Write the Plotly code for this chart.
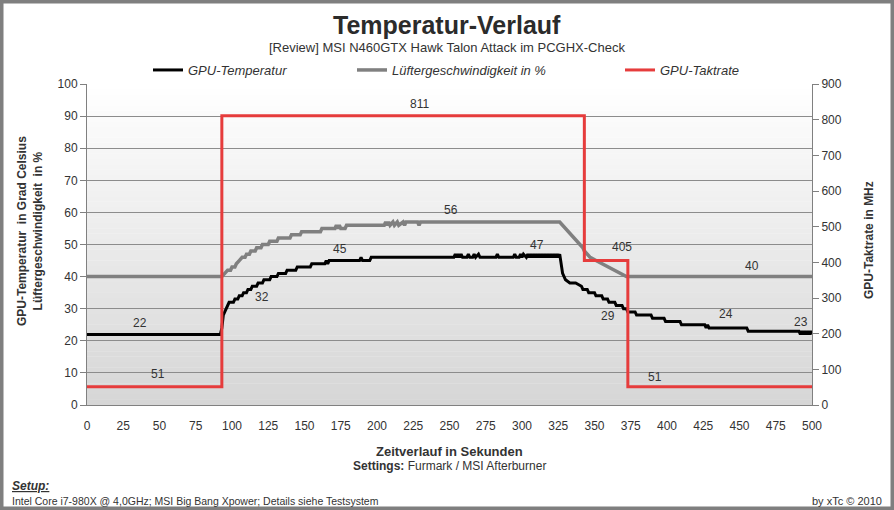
import plotly.graph_objects as go

# ---------------- data ----------------
time_temp = [0, 92, 93, 94, 95, 96, 97, 98, 101, 102, 104, 105, 107, 108, 110, 111, 113, 114, 117, 118,
             121, 122, 126, 127, 131, 132, 137, 138, 144, 145, 154, 155, 164, 165, 166, 167, 188, 189, 190,
             195, 196, 253, 254, 255, 256, 257, 258, 259, 262, 263, 264, 266, 267, 268, 270, 271, 272,
             282, 283, 284, 294, 295, 296, 298, 299, 300, 301, 303, 304, 305, 306, 307, 308, 309, 310,
             311, 312, 313, 314, 315, 316, 317, 318, 319, 320, 321, 322, 323, 324, 325, 326,
             327, 328, 330, 333, 337, 341, 342, 345, 346, 350, 351, 355, 356, 359, 360, 364, 365,
             369, 370, 372, 373, 378, 379, 389, 390, 398, 399, 409, 410, 426, 427, 428, 429, 455, 456,
             491, 492, 493, 494, 495, 496, 497, 498, 499, 500]
temp = [22, 22, 24, 28, 29, 30, 31, 32, 32, 33, 33, 34, 34, 35, 35, 36, 36, 37, 37, 38,
        38, 39, 39, 40, 40, 41, 41, 42, 42, 43, 43, 44, 44, 45, 44, 45, 45, 46, 45,
        45, 46, 46, 47, 46, 47, 46, 47, 46, 46, 47, 46, 46, 47, 46, 47, 46, 46,
        46, 47, 46, 46, 47, 46, 46, 47, 46, 47, 46, 47, 46, 47, 46, 47, 46, 47,
        46, 47, 46, 47, 46, 47, 46, 47, 46, 47, 46, 47, 46, 47, 46, 47,
        43, 41, 39, 38, 38, 37, 36, 36, 35, 35, 34, 34, 33, 33, 32, 32, 31,
        31, 30, 30, 29, 29, 28, 28, 27, 27, 26, 26, 25, 25, 24, 25, 24, 24, 23,
        23, 22, 23, 22, 23, 22, 23, 22, 23, 22]

time_fan = [0, 93, 95, 97, 99, 100, 102, 103, 105, 107, 109, 110, 112, 113, 116, 117, 120, 121, 125, 126,
            131, 132, 140, 141, 147, 148, 161, 162, 171, 172, 173, 174, 175, 178, 179, 205, 206, 207,
            208, 209, 211, 212, 214, 215, 218, 219, 220, 228, 229, 230, 326, 328, 330, 332, 334, 336,
            338, 340, 342, 343, 345, 347, 351, 355, 359, 364, 368, 372, 500]
fan = [40, 40, 41, 42, 42, 43, 43, 44, 45, 46, 46, 47, 47, 48, 48, 49, 49, 50, 50, 51,
       51, 52, 52, 53, 53, 54, 54, 55, 55, 56, 55, 56, 55, 55, 56, 56, 57, 56,
       57, 56, 57, 56, 57, 56, 57, 56, 57, 57, 56, 57, 57, 56, 55, 54, 53, 52,
       51, 50, 49, 48, 47, 46, 45, 44, 43, 42, 41, 40, 40]

time_clock = [0, 93, 93, 343, 343, 373, 373, 500]
clock = [51, 51, 811, 811, 405, 405, 51, 51]

x_ticks = list(range(0, 501, 25))
y_ticks = list(range(0, 101, 10))
y2_ticks = list(range(0, 901, 100))

label_text = ["22", "51", "32", "45", "811", "56", "47", "405", "29", "40", "24", "23", "51"]
label_x = [36.6, 48.7, 120.5, 174.5, 229, 250.8, 310, 369.2, 359, 458.4, 440.4, 492.2, 391.7]
label_y = [25.5, 9.55, 33.5, 48.5, 93.8, 60.7, 50.0, 49.3, 27.8, 43.4, 28.2, 25.8, 8.7]

series_names = ["GPU-Temperatur", "Lüftergeschwindigkeit in %", "GPU-Taktrate"]

# ---------------- figure ----------------
FONT = "Liberation Sans, Arial, sans-serif"
TXT = "#333333"
W, H = 894, 510
L, R, T, B = 87, 82, 84, 105
PW, PH = W - L - R, H - T - B


def px(x):
    return (x - L) / PW


def py(y):
    return (H - B - y) / PH


fig = go.Figure()
fig.add_trace(go.Scatter(x=time_temp, y=temp, mode="lines", name=series_names[0],
                         line=dict(color="#000000", width=3), legend="legend"))
fig.add_trace(go.Scatter(x=time_fan, y=fan, mode="lines", name=series_names[1],
                         line=dict(color="#808080", width=3.5), legend="legend2"))
fig.add_trace(go.Scatter(x=time_clock, y=clock, mode="lines", name=series_names[2], yaxis="y2",
                         line=dict(color="#e63c3c", width=3), legend="legend3"))

shapes = []
n = 60
top = (255, 255, 255)
bot = (214, 214, 214)
for i in range(n):
    f = (i + 0.5) / n
    c = tuple(round(bot[k] + (top[k] - bot[k]) * f) for k in range(3))
    shapes.append(dict(type="rect", xref="paper", yref="paper", x0=0, x1=1,
                       y0=i / n, y1=(i + 1) / n + 0.001, layer="below",
                       line=dict(width=0), fillcolor="rgb(%d,%d,%d)" % c))
shapes.append(dict(type="rect", xref="paper", yref="paper",
                   x0=px(1.75), x1=px(892.25), y0=py(508.25), y1=py(1.75),
                   line=dict(color="#7f7f7f", width=3.5), fillcolor="rgba(0,0,0,0)", layer="above"))


def note(x, y, text, size, xanchor="center", **kw):
    return dict(x=px(x), y=py(y), xref="paper", yref="paper", text=text, showarrow=False,
                xanchor=xanchor, yanchor="middle",
                font=dict(family=FONT, size=size, color=kw.pop("color", TXT)), **kw)


ann = []
for t, xv, yv in zip(label_text, label_x, label_y):
    ann.append(dict(x=xv, y=yv, xref="x", yref="y", text=t, showarrow=False,
                    xanchor="center", yanchor="middle",
                    font=dict(family=FONT, size=12, color=TXT)))

ann += [
    note(447, 25, "<b>Temperatur-Verlauf</b>", 25, color="#2b2b2b"),
    note(447, 48, "[Review] MSI N460GTX Hawk Talon Attack im PCGHX-Check", 13),
    note(449, 451, "<b>Zeitverlauf in Sekunden</b>", 13),
    note(449, 466, "<b>Settings:</b> Furmark / MSI Afterburner", 12),
    note(10, 486.5, "<b><i><u>Setup:</u></i></b>", 12, xanchor="left"),
    note(10, 501, "Intel Core i7-980X @ 4,0GHz; MSI Big Bang Xpower; Details siehe Testsystem", 10.5,
         xanchor="left"),
    note(884, 501, "by xTc © 2010", 11, xanchor="right"),
    note(30, 231, "<b>GPU-Temperatur &nbsp;in Grad Celsius<br>Lüftergeschwindigkeit &nbsp;in %</b>", 12,
         textangle=-90),
    note(869, 240, "<b>GPU-Taktrate in MHz</b>", 12, textangle=-90),
]

leg_common = dict(orientation="h", yanchor="middle", xanchor="left", y=py(70),
                  bgcolor="rgba(0,0,0,0)", borderwidth=0,
                  font=dict(family=FONT, size=13, color=TXT, style="italic"))

fig.update_layout(
    width=W, height=H,
    margin=dict(l=L, r=R, t=T, b=B, pad=0),
    paper_bgcolor="#ffffff",
    plot_bgcolor="rgba(0,0,0,0)",
    showlegend=True,
    legend=dict(x=px(148), **leg_common),
    legend2=dict(x=px(352), **leg_common),
    legend3=dict(x=px(620), **leg_common),
    shapes=shapes,
    annotations=ann,
    xaxis=dict(range=[0, 500], tickvals=x_ticks, showgrid=False, zeroline=False,
               showline=True, linecolor="#808080", linewidth=1, ticks="",
               ticklabelstandoff=10,
               tickfont=dict(family=FONT, size=12, color=TXT)),
    yaxis=dict(range=[0, 100], tickvals=y_ticks, showgrid=True, gridcolor="#8c8c8c", gridwidth=1,
               zeroline=False, showline=True, linecolor="#808080", linewidth=1,
               ticks="outside", ticklen=6, tickcolor="#808080",
               tickfont=dict(family=FONT, size=12, color=TXT)),
    yaxis2=dict(range=[0, 900], tickvals=y2_ticks, overlaying="y", side="right", showgrid=False,
                zeroline=False, showline=True, linecolor="#808080", linewidth=1,
                ticks="outside", ticklen=6, tickcolor="#808080",
                tickfont=dict(family=FONT, size=12, color=TXT)),
)

fig.write_html("out.html")
